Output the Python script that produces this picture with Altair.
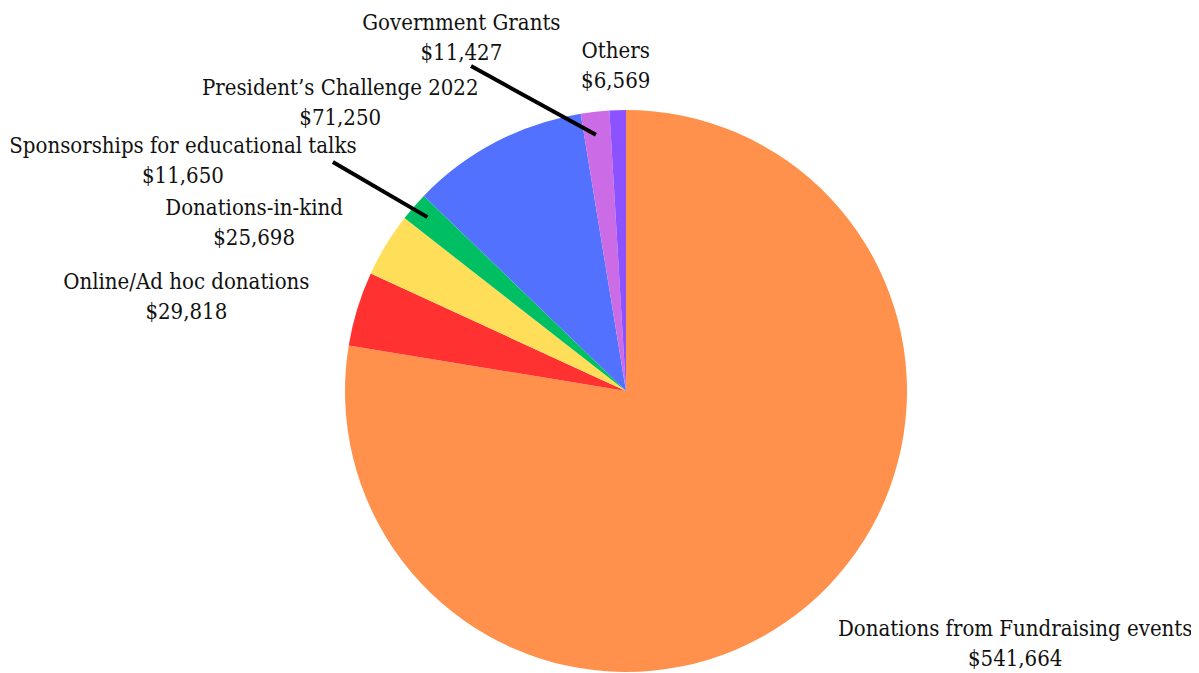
import altair as alt
import pandas as pd

# ---- data ----
categories = [
    "Donations from Fundraising events",
    "Online/Ad hoc donations",
    "Donations-in-kind",
    "Sponsorships for educational talks",
    "President\u2019s Challenge 2022",
    "Government Grants",
    "Others",
]
values = [541664, 29818, 25698, 11650, 71250, 11427, 6569]
colors = ["#FF914D", "#FF3131", "#FFDE59", "#00BF63", "#5271FF", "#CB6CE6", "#8C52FF"]

# ---- layout (label anchors in polar form: degrees clockwise from 12 o'clock, px) ----
label_angle = [122.8, 282.3, 294.6, 297.6, 315.4, 335.1, 358.2]
label_radius = [463, 450, 409, 500, 407, 391, 327]
# leader lines: (angle0, r0, angle1, r1)
leader_a0 = [308.0, 334.5]
leader_r0 = [372, 360]
leader_a1 = [311.2, 353.3]
leader_r1 = [264, 258]

CX, CY, R = 618, 383, 281
FONT = "'DejaVu Serif Condensed', 'DejaVu Serif', serif"

df = pd.DataFrame({
    "category": categories,
    "value": values,
    "idx": list(range(len(categories))),
    "la": label_angle,
    "lr": label_radius,
})
lines = pd.DataFrame({"a0": leader_a0, "r0": leader_r0, "a1": leader_a1, "r1": leader_r1})

base = alt.Chart(df)

pie = base.mark_arc(outerRadius=R).encode(
    theta=alt.Theta("value:Q", stack=True),
    color=alt.Color("category:N",
                    scale=alt.Scale(domain=categories, range=colors),
                    legend=None),
    order=alt.Order("idx:Q"),
    x=alt.value(CX),
    y=alt.value(CY),
)

labels = base.transform_calculate(
    lbl="[datum.category, '$' + format(datum.value, ',')]"
).mark_text(
    font=FONT, fontSize=22, color="#111111", align="center",
    baseline="middle", lineHeight=30, dy=-13,
).encode(
    theta=alt.Theta("la:Q", stack=False,
                    scale=alt.Scale(type="linear", domain=[0, 360], range=[0, 6.283185307])),
    radius=alt.Radius("lr:Q",
                      scale=alt.Scale(type="linear", domain=[0, 600], range=[0, 600], zero=True)),
    text=alt.Text("lbl:N"),
    x=alt.value(CX),
    y=alt.value(CY),
)

leaders = alt.Chart(lines).transform_calculate(
    px0=f"{CX} + datum.r0 * sin(datum.a0 * PI / 180)",
    py0=f"{CY} - datum.r0 * cos(datum.a0 * PI / 180)",
    px1=f"{CX} + datum.r1 * sin(datum.a1 * PI / 180)",
    py1=f"{CY} - datum.r1 * cos(datum.a1 * PI / 180)",
).mark_rule(color="#000000", strokeWidth=4).encode(
    x=alt.X("px0:Q", scale=None),
    y=alt.Y("py0:Q", scale=None),
    x2="px1:Q",
    y2="py1:Q",
)

chart = alt.layer(pie, leaders, labels).resolve_scale(
    theta="independent", radius="independent"
).properties(
    width=1183, height=665, padding=0,
    autosize=alt.AutoSizeParams(type="none"),
).configure_view(stroke=None)

chart.save("out.html", embed_options={"renderer": "svg", "actions": False})
